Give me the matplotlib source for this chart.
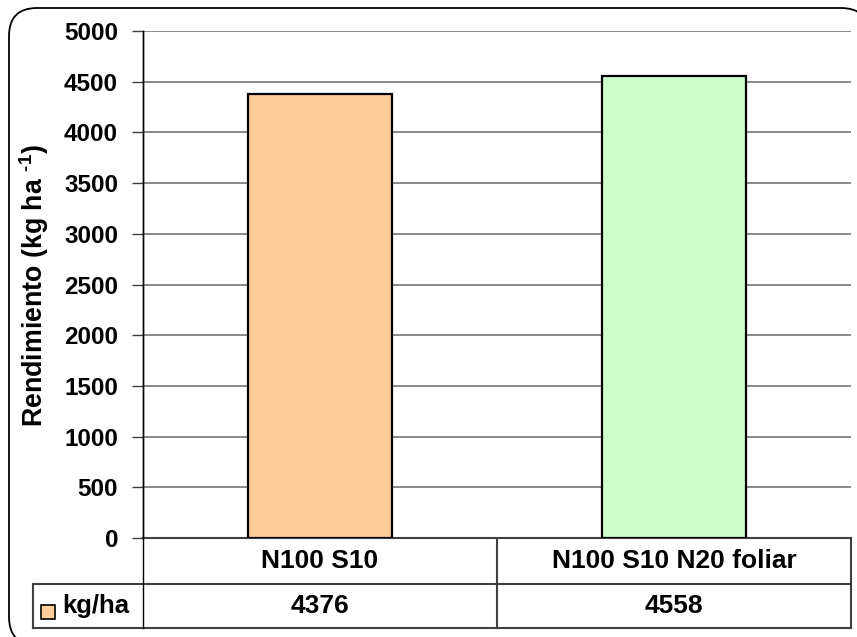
# Rendimiento de grano por tratamiento, con tabla de datos bajo el eje
import matplotlib.pyplot as plt
import matplotlib.patches as mpatches
from matplotlib.transforms import IdentityTransform

tratamientos = ["N100 S10", "N100 S10 N20 foliar"]
rendimiento = [4376, 4558]
colores = ["#FFCC99", "#CCFFCC"]
serie = "kg/ha"
ticks_y = list(range(0, 5001, 500))

plt.rcParams['font.family'] = ['Liberation Sans', 'DejaVu Sans']
plt.rcParams['font.weight'] = 'bold'
plt.rcParams['mathtext.fontset'] = 'custom'
plt.rcParams['mathtext.rm'] = 'Liberation Sans:bold'
plt.rcParams['mathtext.bf'] = 'Liberation Sans:bold'

FS_TICK = 17.5
FS_TABLA = 19
FS_LABEL = 19.3
LINEA = '#404040'

fig = plt.figure(figsize=(8.57, 6.37), dpi=100)
ax = fig.add_axes([143 / 857, 1 - 538 / 637, 708 / 857, 507 / 637])

x = range(len(tratamientos))
ax.bar(x, rendimiento, width=0.404, color=colores, edgecolor='black', linewidth=1.6, zorder=3)

ax.set_xlim(-0.5, len(tratamientos) - 0.5)
ax.set_ylim(0, 5000)
ax.set_yticks(ticks_y)
ax.set_yticklabels([str(t) for t in ticks_y], fontsize=FS_TICK, fontweight='bold')
ax.tick_params(axis='y', length=8, width=1, color=LINEA, pad=10)
ax.set_xticks([])
ax.grid(axis='y', color='#808080', linewidth=1.3, zorder=0)
for lado in ['top', 'right', 'bottom']:
    ax.spines[lado].set_visible(False)
ax.spines['left'].set_color('black')
ax.spines['left'].set_linewidth(1)

ax.set_ylabel(r'Rendimiento (kg ha $^{\text{-1}}$)', fontsize=FS_LABEL, fontweight='bold')
ax.yaxis.set_label_coords(-0.130, 0.497)

# tabla de datos
fila1 = -46 / 507
fila2 = -90 / 507
izq = -110 / 708
kw = dict(transform=ax.transAxes, clip_on=False, color=LINEA, linewidth=1.5)
ax.plot([0, 1], [0, 0], **kw)
ax.plot([izq, 1], [fila1, fila1], **kw)
ax.plot([izq, 1], [fila2, fila2], **kw)
ax.plot([0, 0], [1, fila2], transform=ax.transAxes, clip_on=False, color='black', linewidth=1)
ax.plot([izq, izq], [fila1, fila2], **kw)
n = len(tratamientos)
for i in range(1, n + 1):
    ax.plot([i / n, i / n], [0, fila2], **kw)

for i, (t, v) in enumerate(zip(tratamientos, rendimiento)):
    cx = (i + 0.5) / n
    ax.text(cx, fila1 / 2, t, transform=ax.transAxes, ha='center', va='center',
            fontsize=FS_TABLA, fontweight='bold')
    ax.text(cx, (fila1 + fila2) / 2, str(v), transform=ax.transAxes, ha='center', va='center',
            fontsize=FS_TABLA, fontweight='bold')

# clave de la serie
ax.add_patch(mpatches.Rectangle((41, 637 - 619), 14, 14, transform=IdentityTransform(),
                                facecolor=colores[0], edgecolor='black', linewidth=1.2, clip_on=False))
fig.text(62 / 857, 1 - 606 / 637, serie, ha='left', va='center', fontsize=18.5, fontweight='bold')

# marco redondeado; sale del lienzo por la derecha y por abajo
marco = mpatches.FancyBboxPatch((9, -8), 860, 637, boxstyle='round,pad=0,rounding_size=28',
                                transform=IdentityTransform(), facecolor='white',
                                edgecolor='black', linewidth=1.3, zorder=-1)
fig.patches.append(marco)

fig.savefig('out.png', dpi=100)
